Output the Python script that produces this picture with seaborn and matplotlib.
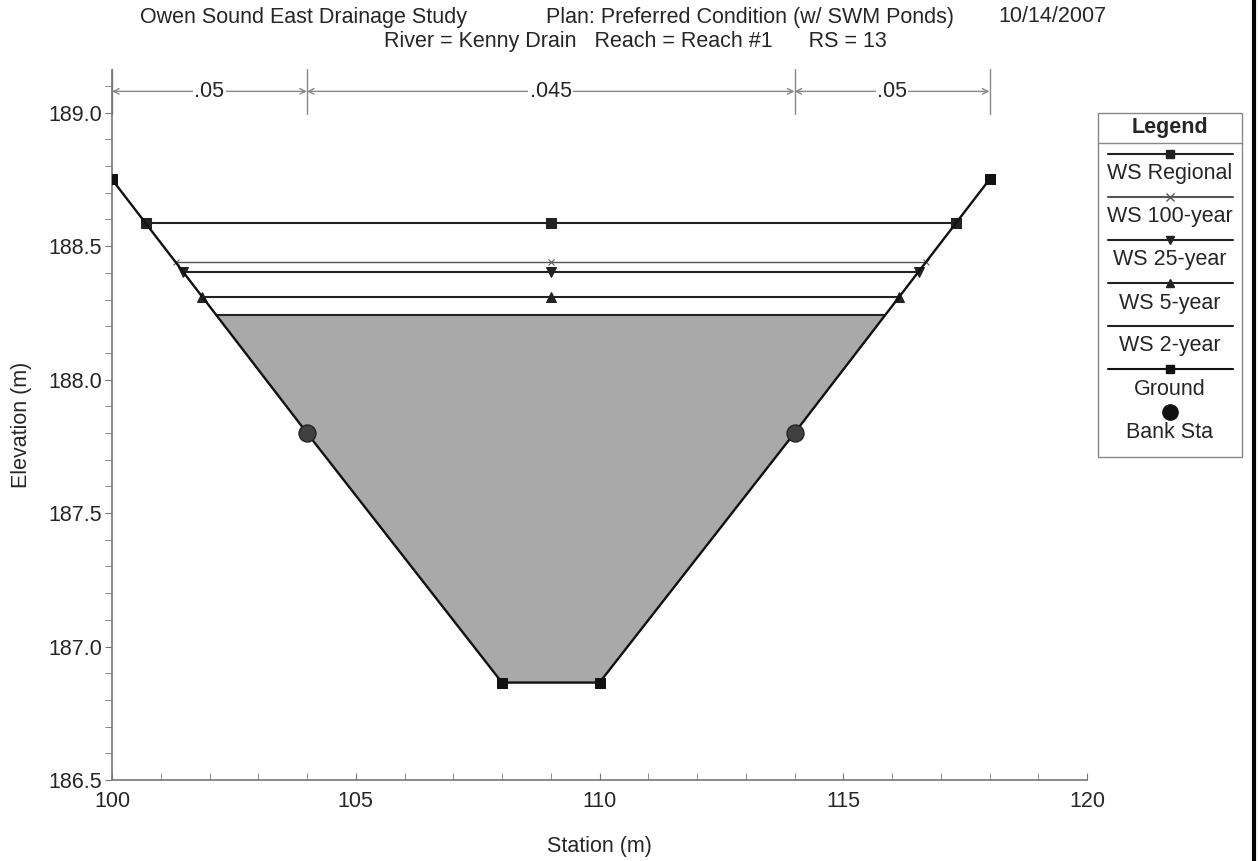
"""
HEC-RAS style cross section plot - Kenny Drain RS 13
"""

import numpy as np
import matplotlib.pyplot as plt
import seaborn as sns
from matplotlib.lines import Line2D
from matplotlib.patches import Rectangle
from matplotlib.ticker import MultipleLocator, FormatStrFormatter

# Ground geometry
ground_sta = [100, 104, 108, 110, 114, 118]
ground_elev = [188.75, 187.80, 186.865, 186.865, 187.80, 188.75]
bank_sta = [104, 114]

# Water surface profiles
ws_names = ['WS Regional', 'WS 100-year', 'WS 25-year', 'WS 5-year', 'WS 2-year']
ws_elev = [188.585, 188.44, 188.405, 188.31, 188.242]
ws_markers = ['s', 'x', 'v', '^', None]
ws_colors = ['#222222', '#555555', '#222222', '#222222', '#222222']

# Manning's n values
n_breaks = [100, 104, 114, 118]
n_values = ['.05', '.045', '.05']

title_parts = ['Owen Sound East Drainage Study', 'Plan: Preferred Condition (w/ SWM Ponds)', '10/14/2007']
subtitle = 'River = Kenny Drain   Reach = Reach #1      RS = 13'

sns.set_style("white")
plt.rcParams['font.family'] = ['Liberation Sans', 'DejaVu Sans']
FS = 15.5

W, H = 1259, 861
fig = plt.figure(figsize=(W / 100, H / 100), dpi=100)
ax = fig.add_axes([112 / W, 1 - 780 / H, (1087 - 112) / W, (780 - 70) / H])

gs = np.array(ground_sta, dtype=float)
ge = np.array(ground_elev, dtype=float)
imin = int(np.argmin(ge))
left_s, left_e = gs[:imin + 1], ge[:imin + 1]
right_s, right_e = gs[imin:], ge[imin:]
mid = (gs.min() + gs.max()) / 2


def ws_extent(z):
    xl = np.interp(z, left_e[::-1], left_s[::-1])
    xr = np.interp(z, right_e, right_s)
    return xl, xr


# water fill below the lowest profile
z2 = min(ws_elev)
fx = np.linspace(gs.min(), gs.max(), 400)
fg = np.interp(fx, gs, ge)
ax.fill_between(fx, fg, z2, where=fg <= z2, color='#a9a9a9', linewidth=0, zorder=1)

# water surface lines
for name, z, m, c in zip(ws_names, ws_elev, ws_markers, ws_colors):
    xl, xr = ws_extent(z)
    lw = 1.0 if m == 'x' else 1.5
    sns.lineplot(x=[xl, mid, xr], y=[z, z, z], ax=ax, color=c, linewidth=lw,
                 marker=m if m else None, markersize=7 if m != 'x' else 5,
                 markeredgecolor=c, markerfacecolor=c, sort=False, zorder=3)

# ground
sns.lineplot(x=ground_sta, y=ground_elev, ax=ax, color='#111111', linewidth=1.7,
             marker='s', markersize=7, markeredgecolor='#111111', sort=False, zorder=4)
bank_elev = np.interp(bank_sta, gs, ge)
sns.scatterplot(x=bank_sta, y=bank_elev, ax=ax, s=150, color='#404040',
                edgecolor='#222222', zorder=5)

ax.set_xlim(100, 120)
ax.set_ylim(186.5, 189.16)
ax.xaxis.set_major_locator(MultipleLocator(5))
ax.xaxis.set_minor_locator(MultipleLocator(1))
ax.yaxis.set_major_locator(MultipleLocator(0.5))
ax.yaxis.set_minor_locator(MultipleLocator(0.1))
ax.yaxis.set_major_formatter(FormatStrFormatter('%.1f'))
ax.tick_params(axis='x', which='both', direction='in', length=5, color='#777777',
               labelsize=FS, pad=8, bottom=True)
ax.tick_params(axis='y', which='both', direction='out', length=5, color='#777777',
               labelsize=FS, pad=2, left=True)
for s in ['top', 'right']:
    ax.spines[s].set_visible(False)
for s in ['left', 'bottom']:
    ax.spines[s].set_color('#777777')
    ax.spines[s].set_linewidth(1.2)
ax.set_xlabel('Station (m)', fontsize=FS, labelpad=17)
ax.set_ylabel('Elevation (m)', fontsize=FS, labelpad=12)

# Manning's n annotations
n_y = 189.08
for b in n_breaks:
    ax.plot([b, b], [188.995, 189.165], color='#888888', lw=1, clip_on=False)
for i, v in enumerate(n_values):
    a, b = n_breaks[i], n_breaks[i + 1]
    ax.annotate('', xy=(a, n_y), xytext=(b, n_y),
                arrowprops=dict(arrowstyle='<->', color='#888888', lw=1,
                                shrinkA=0, shrinkB=0), annotation_clip=False)
    ax.text((a + b) / 2, n_y, v, ha='center', va='center', fontsize=FS,
            bbox=dict(facecolor='white', edgecolor='none', pad=1), clip_on=False)

# titles
fig.text(140 / W, 1 - 17 / H, title_parts[0], ha='left', va='center', fontsize=FS)
fig.text(750 / W, 1 - 17 / H, title_parts[1], ha='center', va='center', fontsize=FS)
fig.text(1106 / W, 1 - 17 / H, title_parts[2], ha='right', va='center', fontsize=FS)
fig.text(635 / W, 1 - 42 / H, subtitle, ha='center', va='center', fontsize=FS)

# legend box drawn by hand
lx0, lx1, ly0, ly1 = 1098, 1242, 113, 457
fig.add_artist(Rectangle((lx0 / W, 1 - ly1 / H), (lx1 - lx0) / W, (ly1 - ly0) / H,
                         transform=fig.transFigure, fill=False, edgecolor='#888888', lw=1))
fig.add_artist(Line2D([lx0 / W, lx1 / W], [1 - 143 / H] * 2, transform=fig.transFigure,
                      color='#888888', lw=1))
fig.text((lx0 + lx1) / 2 / W, 1 - 128 / H, 'Legend', ha='center', va='center',
         fontsize=FS, fontweight='bold')
leg_names = ws_names + ['Ground', 'Bank Sta']
leg_markers = ws_markers + ['s', 'o']
leg_colors = ws_colors + ['#111111', '#111111']
for k, (nm, mk, c) in enumerate(zip(leg_names, leg_markers, leg_colors)):
    yl = 154 + k * 43
    yt = yl + 20
    cx = (lx0 + lx1) / 2 / W
    if nm != 'Bank Sta':
        fig.add_artist(Line2D([1108 / W, 1233 / W], [1 - yl / H] * 2, transform=fig.transFigure,
                              color=c, lw=1.5))
    if mk:
        fig.add_artist(Line2D([cx], [1 - yl / H], transform=fig.transFigure, color=c,
                              marker=mk, markersize=6 if mk != 'o' else 11, linestyle='none'))
    fig.text(cx, 1 - yt / H, nm, ha='center', va='center', fontsize=FS)

# page border on the right
fig.add_artist(Line2D([1254 / W] * 2, [0, 1], transform=fig.transFigure, color='black', lw=3))

fig.savefig('out.png', dpi=100)
